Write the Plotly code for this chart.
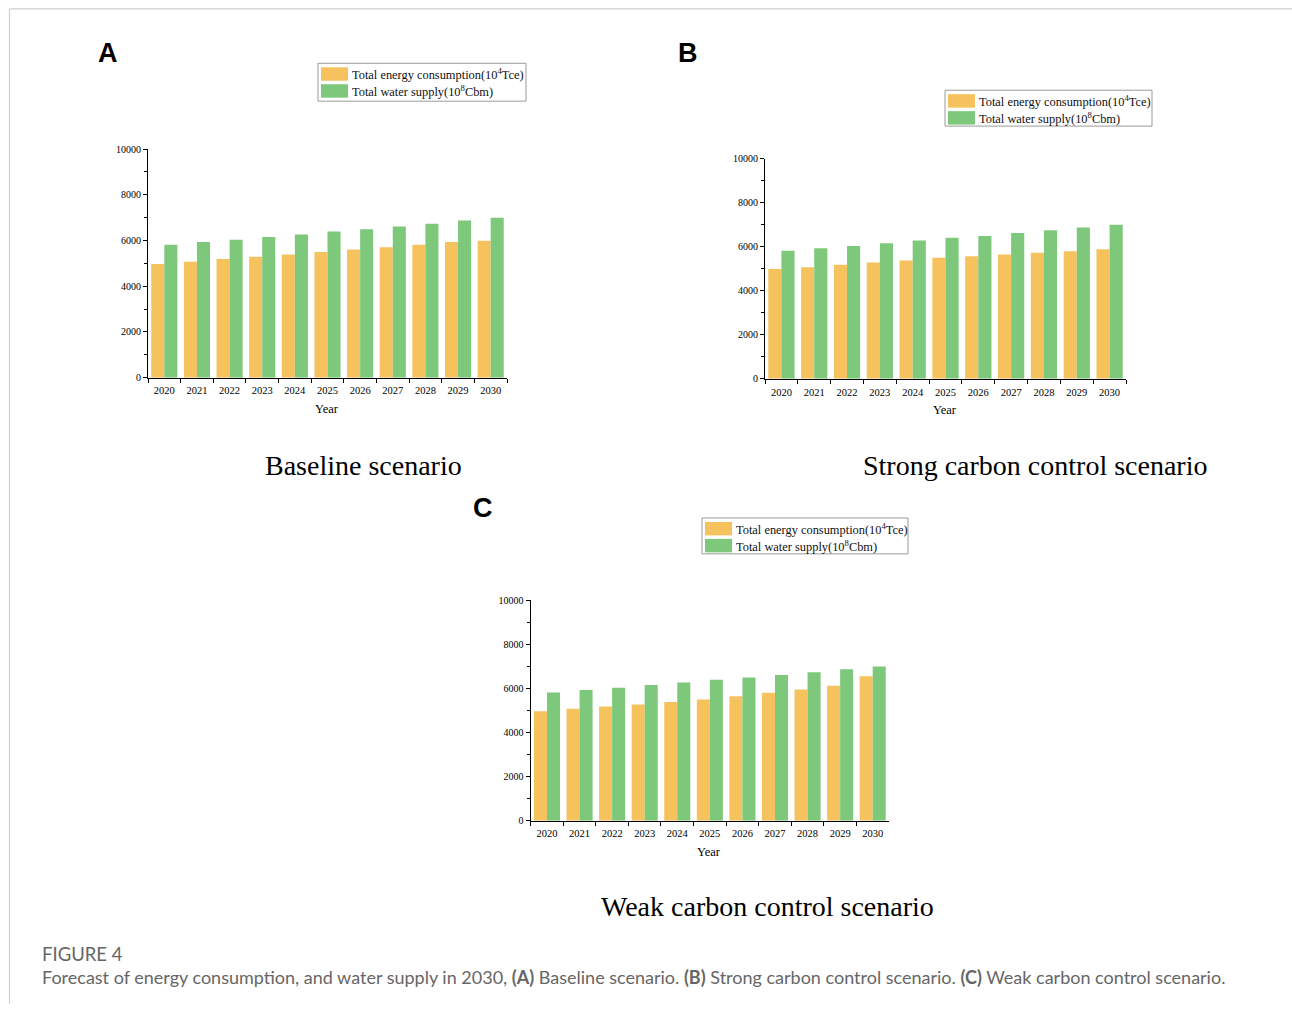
import plotly.graph_objects as go

# ---------------- data ----------------
years = ["2020", "2021", "2022", "2023", "2024", "2025", "2026", "2027", "2028", "2029", "2030"]

baseline_energy = [4970, 5075, 5190, 5290, 5390, 5495, 5610, 5700, 5815, 5930, 5990]
baseline_water = [5815, 5930, 6035, 6150, 6265, 6395, 6495, 6615, 6730, 6875, 6995]

strong_energy = [4985, 5075, 5180, 5285, 5380, 5500, 5575, 5650, 5725, 5800, 5890]
strong_water = [5815, 5935, 6040, 6160, 6280, 6405, 6495, 6630, 6750, 6870, 7005]

weak_energy = [4975, 5085, 5190, 5280, 5385, 5505, 5655, 5805, 5960, 6125, 6560]
weak_water = [5820, 5935, 6040, 6160, 6280, 6400, 6500, 6620, 6740, 6875, 7000]

series_names = ["Total energy consumption(10<sup>4</sup>Tce)", "Total water supply(10<sup>8</sup>Cbm)"]
panel_letters = ["A", "B", "C"]
scenario_titles = ["Baseline scenario", "Strong carbon control scenario", "Weak carbon control scenario"]
y_ticks = [0, 2000, 4000, 6000, 8000, 10000]
y_tick_labels = ["0", "2000", "4000", "6000", "8000", "10000"]

caption_head = "FIGURE 4"
caption_text = ("Forecast of energy consumption, and water supply in 2030, <b>(A)</b> Baseline scenario. "
                "<b>(B)</b> Strong carbon control scenario. <b>(C)</b> Weak carbon control scenario.")

# ---------------- layout helpers ----------------
W, H = 1292, 1010
ORANGE = "#F6C25E"
GREEN = "#7DC87A"
SERIF = "Liberation Serif"
VSCALE = 0.991  # small vertical compensation observed in rendering


def px(x):
    return x / W


def py(y):
    yy = 505 + (y - 505) / VSCALE
    return 1 - yy / H


panels = [
    dict(x=(148, 507), y=(148, 377.3), data=(baseline_energy, baseline_water),
         letter=(107.5, 51), title=(363, 465), legend=(318, 62, 526, 100)),
    dict(x=(765, 1126), y=(157.7, 378.5), data=(strong_energy, strong_water),
         letter=(687.5, 51), title=(1035, 465), legend=(945, 89, 1152, 125)),
    dict(x=(530.7, 889), y=(600.7, 821.7), data=(weak_energy, weak_water),
         letter=(482.5, 507), title=(767, 908), legend=(702, 518, 908, 554)),
]

fig = go.Figure()
shapes = []
annotations = []


def note(text, x, y, size, family=SERIF, color="black", xanchor="center"):
    annotations.append(dict(text=text, x=px(x), y=py(y), xref="paper", yref="paper",
                            xanchor=xanchor, yanchor="middle", showarrow=False,
                            font=dict(family=family, size=size, color=color)))


for i, p in enumerate(panels):
    n = "" if i == 0 else str(i + 1)
    xa, ya = "x" + n, "y" + n
    energy, water = p["data"]
    fig.add_trace(go.Bar(x=years, y=energy, name="Total energy consumption", marker_color=ORANGE,
                         marker_line_width=0, xaxis=xa, yaxis=ya, showlegend=False,
                         offsetgroup="e"))
    fig.add_trace(go.Bar(x=years, y=water, name="Total water supply", marker_color=GREEN,
                         marker_line_width=0, xaxis=xa, yaxis=ya, showlegend=False,
                         offsetgroup="w"))

    fig.layout["xaxis" + n] = dict(
        domain=[px(p["x"][0]), px(p["x"][1])], anchor=ya, type="category",
        range=[-0.5, 10.5], showline=True, linecolor="black", linewidth=1.2,
        ticks="outside", ticklen=4, tickwidth=1, tickcolor="black", tickson="boundaries",
        ticklabelstandoff=3, showgrid=False, zeroline=False,
        tickfont=dict(family=SERIF, size=10.5, color="black"), fixedrange=True)
    fig.layout["yaxis" + n] = dict(
        domain=[py(p["y"][1]), py(p["y"][0])], anchor=xa, range=[0, 10000],
        tickvals=y_ticks, ticktext=y_tick_labels, showline=True, linecolor="black", linewidth=1.2,
        ticks="outside", ticklen=4, tickwidth=1, tickcolor="black",
        minor=dict(dtick=1000, ticks="outside", ticklen=2.5, tickcolor="black", showgrid=False),
        showgrid=False, zeroline=False,
        tickfont=dict(family=SERIF, size=10, color="black"), fixedrange=True)

    # axis title "Year"
    cx = (p["x"][0] + p["x"][1]) / 2 - 0.5
    note("Year", cx, p["y"][1] + 31, 12.5)
    # panel letter
    note("<b>" + panel_letters[i] + "</b>", p["letter"][0], p["letter"][1] + 1, 27,
         family="Liberation Sans")
    # scenario title
    note(scenario_titles[i], p["title"][0], p["title"][1], 28)
    # legend box
    lx0, ly0, lx1, ly1 = p["legend"]
    shapes.append(dict(type="rect", xref="paper", yref="paper", x0=px(lx0), x1=px(lx1),
                       y0=py(ly1), y1=py(ly0), line=dict(color="#9a9a9a", width=1),
                       fillcolor="white", layer="above"))
    for k, col in enumerate([ORANGE, GREEN]):
        sy0 = ly0 + 4 + k * 17
        shapes.append(dict(type="rect", xref="paper", yref="paper", x0=px(lx0 + 3), x1=px(lx0 + 30),
                           y0=py(sy0 + 13.5), y1=py(sy0), line=dict(width=0), fillcolor=col,
                           layer="above"))
        note(series_names[k], lx0 + 31.5, sy0 + 7, 12.4, color="#111", xanchor="left")

# frame lines
shapes.append(dict(type="line", xref="paper", yref="paper", x0=px(10), x1=1, y0=py(7.5), y1=py(7.5),
                   line=dict(color="#cfcfcf", width=1.2)))
shapes.append(dict(type="line", xref="paper", yref="paper", x0=px(9.5), x1=px(9.5), y0=py(7.5), y1=0,
                   line=dict(color="#cfcfcf", width=1.2)))

# caption
note(caption_head, 39.5, 955, 18.5, family="Lato", color="#666666", xanchor="left")
note(caption_text, 39.5, 978, 18, family="Lato", color="#666666", xanchor="left")

fig.update_layout(
    width=W, height=H, margin=dict(l=0, r=0, t=0, b=0),
    paper_bgcolor="white", plot_bgcolor="white",
    barmode="group", bargap=0.2, bargroupgap=0,
    shapes=shapes, annotations=annotations, showlegend=False,
)

fig.write_html("out.html", config={"displayModeBar": False})
